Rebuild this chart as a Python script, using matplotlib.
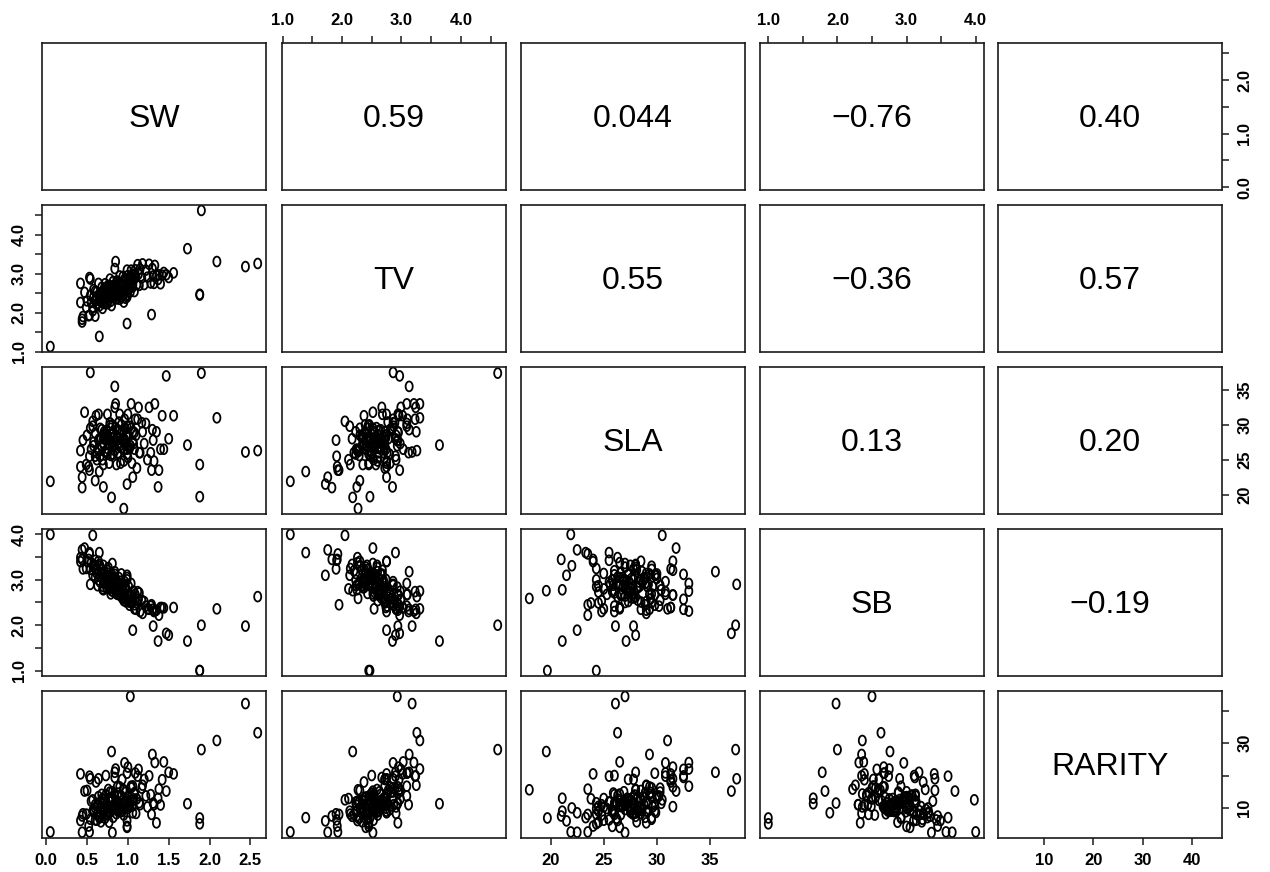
import numpy as np
import matplotlib
matplotlib.use("Agg")
import matplotlib.pyplot as plt
from matplotlib.path import Path
from matplotlib.markers import MarkerStyle

plt.rcParams["font.family"] = ["Liberation Sans", "DejaVu Sans"]

variables = ["SW", "TV", "SLA", "SB", "RARITY"]

SW = [0.05, 1.90, 1.73, 2.09, 2.44, 2.59, 1.88, 1.88, 1.03, 0.44,
      0.53, 0.81, 0.99, 0.99, 0.42, 0.53, 0.44, 0.57, 0.65, 0.80,
      0.85, 0.99, 1.29, 1.30, 1.31, 1.33, 1.35, 1.37, 1.47, 1.50,
      1.06, 0.54, 0.84, 0.95, 0.70, 0.60,
      0.42, 0.45, 0.47, 0.49, 0.50, 0.52, 0.54, 0.55, 0.57, 0.58,
      0.60, 0.61, 0.62, 0.63, 0.64, 0.65, 0.66, 0.67, 0.68, 0.69,
      0.70, 0.70, 0.71, 0.72, 0.73, 0.74, 0.75, 0.75, 0.76, 0.77,
      0.78, 0.79, 0.80, 0.81, 0.82, 0.83, 0.84, 0.86, 0.87, 0.88,
      0.89, 0.90, 0.90, 0.91, 0.92, 0.93, 0.94, 0.95, 0.96, 0.97,
      0.98, 0.99, 1.00, 1.00, 1.01, 1.02, 1.03, 1.04, 1.05, 1.06,
      1.07, 1.08, 1.09, 1.10, 1.11, 1.12, 1.13, 1.14, 1.15, 1.17,
      1.18, 1.20, 1.22, 1.24, 1.26, 1.28, 1.32, 1.38, 1.40, 1.42,
      1.44, 1.56,
      0.58, 0.60, 0.62, 0.64, 0.66, 0.68, 0.70, 0.71, 0.72, 0.73,
      0.74, 0.75, 0.76, 0.77, 0.78, 0.79, 0.80, 0.81, 0.82, 0.83,
      0.84, 0.85, 0.86, 0.87, 0.88, 0.89, 0.90, 0.91, 0.92, 0.93,
      0.94, 0.95, 0.96, 0.97, 0.98, 1.00, 1.02, 1.04, 1.06, 1.08]
TV = [1.13, 4.62, 3.64, 3.31, 3.18, 3.26, 2.47, 2.45, 2.93, 1.76,
      1.93, 2.52, 2.40, 2.45, 2.75, 2.90, 1.83, 2.05, 1.39, 2.18,
      3.31, 1.72, 1.95, 3.13, 2.94, 3.21, 2.94, 2.85, 2.97, 2.90,
      2.75, 2.86, 3.13, 2.27, 2.25, 2.30,
      2.26, 1.90, 2.52, 2.14, 2.30, 1.92, 2.44, 2.26, 2.13, 2.59,
      1.91, 2.37, 2.53, 2.24, 2.75, 2.17, 2.48, 2.34, 2.65, 2.11,
      2.42, 2.57, 2.23, 2.74, 2.50, 2.36, 2.68, 2.23, 2.59, 2.45,
      2.86, 2.52, 2.68, 2.39, 2.80, 2.51, 2.67, 2.35, 2.81, 2.62,
      2.53, 2.94, 2.34, 2.75, 2.46, 2.72, 2.93, 2.60, 2.86, 2.37,
      2.73, 3.09, 2.60, 2.95, 2.71, 2.87, 2.53, 3.09, 2.81, 2.72,
      2.98, 2.54, 3.10, 2.91, 2.72, 3.23, 2.99, 2.70, 3.12, 2.89,
      3.25, 2.72, 3.09, 2.91, 3.24, 2.76, 2.75, 2.97, 2.74, 2.96,
      3.03, 3.02,
      2.40, 2.55, 2.20, 2.45, 2.30, 2.50, 2.35, 2.60, 2.28, 2.48,
      2.62, 2.40, 2.33, 2.70, 2.44, 2.29, 2.56, 2.63, 2.38, 2.70,
      2.48, 2.58, 2.43, 2.68, 2.50, 2.77, 2.55, 2.40, 2.66, 2.52,
      2.78, 2.45, 2.62, 2.82, 2.55, 2.74, 2.62, 2.85, 2.66, 2.95]
SLA = [21.9, 37.4, 27.1, 31.0, 26.1, 26.3, 19.7, 24.3, 27.0, 22.5,
       23.5, 27.0, 26.5, 25.8, 24.0, 25.5, 21.0, 30.5, 23.3, 19.6,
       33.0, 21.5, 23.5, 29.3, 27.8, 33.0, 29.0, 21.1, 37.0, 28.0,
       22.5, 37.5, 35.5, 18.0, 21.1, 22.0,
       26.3, 27.8, 31.8, 24.3, 28.5, 24.0, 29.5, 26.5, 29.8, 27.5,
       25.5, 31.3, 25.0, 26.5, 31.5, 28.0, 25.5, 28.1, 29.3, 25.0,
       28.0, 24.3, 29.0, 28.5, 26.0, 28.2, 31.5, 25.8, 28.0, 24.5,
       30.3, 29.5, 27.3, 30.0, 25.8, 27.6, 32.5, 24.3, 29.3, 26.0,
       29.0, 31.5, 27.0, 24.5, 30.0, 27.8, 27.7, 24.8, 30.8, 27.3,
       28.5, 29.8, 25.3, 31.5, 26.8, 29.8, 27.0, 33.0, 24.5, 29.0,
       27.3, 26.5, 30.8, 28.5, 23.8, 30.8, 32.5, 26.0, 26.0, 30.3,
       29.0, 27.3, 30.2, 25.0, 32.5, 26.0, 24.8, 23.5, 26.5, 31.3,
       26.5, 31.3,
       27.0, 28.8, 26.0, 27.8, 29.5, 26.8, 27.4, 28.6, 26.2, 27.9,
       29.2, 26.6, 28.4, 27.2, 29.9, 25.6, 28.1, 26.9, 28.9, 27.1,
       26.3, 29.6, 27.7, 28.3, 25.9, 30.4, 27.5, 28.7, 26.7, 29.1,
       28.0, 26.4, 27.9, 29.4, 27.1, 28.2, 26.6, 29.5, 27.6, 28.9]
SB = [4.00, 2.00, 1.65, 2.36, 1.98, 2.63, 1.00, 1.00, 2.50, 3.66,
      3.57, 3.36, 3.05, 3.00, 3.40, 3.60, 3.45, 3.98, 3.60, 2.76,
      2.75, 3.10, 2.45, 2.35, 1.98, 2.31, 2.33, 1.65, 1.82, 1.78,
      1.89, 2.90, 3.18, 2.59, 2.78, 3.31,
      3.49, 3.24, 3.70, 3.25, 3.41, 3.45, 3.23, 3.38, 3.10, 3.32,
      3.43, 3.24, 3.14, 2.87, 3.41, 3.34, 2.95, 3.22, 3.13, 2.80,
      3.32, 2.85, 3.14, 3.01, 3.11, 2.82, 3.21, 2.99, 3.27, 2.87,
      2.88, 2.69, 3.12, 3.03, 2.74, 3.03, 3.12, 3.00, 2.68, 2.76,
      3.05, 2.66, 2.88, 2.73, 3.13, 2.60, 2.84, 2.54, 2.96, 2.83,
      2.51, 2.67, 2.68, 2.67, 2.85, 2.44, 2.64, 2.92, 2.49, 2.52,
      2.75, 2.36, 2.68, 2.35, 2.49, 2.74, 2.57, 2.71, 2.30, 2.55,
      2.26, 2.52, 2.42, 2.36, 2.35, 2.42, 2.30, 2.22, 2.39, 2.39,
      2.38, 2.39,
      3.28, 3.05, 3.20, 3.00, 3.30, 3.05, 2.95, 3.18, 2.92, 3.08,
      2.90, 3.15, 2.86, 2.98, 3.10, 2.90, 2.82, 3.00, 2.92, 2.80,
      3.06, 2.85, 2.70, 2.95, 2.88, 2.78, 2.72, 2.97, 2.68, 2.85,
      2.62, 2.90, 2.70, 2.58, 2.80, 2.55, 2.66, 2.50, 2.60, 2.45]
RARITY = [2.6, 28.0, 11.3, 30.8, 42.2, 33.2, 6.9, 5.1, 44.4, 2.5,
          2.6, 2.4, 4.0, 4.3, 20.5, 19.8, 7.5, 12.5, 7.0, 27.4,
          22.0, 6.0, 8.0, 26.5, 11.5, 24.0, 5.4, 13.0, 15.2, 21.0,
          8.5, 19.0, 21.0, 15.6, 9.0, 10.0,
          6.1, 8.2, 15.2, 8.1, 15.4, 4.4, 6.5, 12.1, 9.0, 8.7,
          6.3, 18.0, 6.2, 10.9, 19.0, 7.4, 11.8, 5.7, 14.2, 12.9,
          8.4, 11.6, 11.8, 9.9, 20.0, 8.9, 10.4, 8.8, 15.7, 5.6,
          14.9, 13.2, 12.4, 13.1, 9.4, 10.1, 19.4, 9.8, 16.5, 9.0,
          9.2, 16.5, 11.2, 9.0, 13.7, 18.8, 11.4, 7.8, 23.9, 12.0,
          12.8, 20.7, 9.8, 22.6, 11.7, 11.0, 12.2, 16.7, 10.5, 16.8,
          12.8, 14.3, 20.8, 8.3, 12.8, 19.8, 21.9, 11.6, 11.0, 16.1,
          17.0, 18.8, 13.7, 10.3, 19.9, 14.1, 11.0, 15.8, 10.9, 18.7,
          24.2, 20.5,
          9.5, 11.0, 8.0, 13.5, 7.0, 10.5, 12.5, 9.2, 6.8, 14.0,
          11.3, 7.9, 10.0, 13.0, 8.6, 11.9, 9.4, 15.0, 7.1, 11.0,
          13.8, 10.3, 8.2, 12.0, 14.6, 11.4, 9.6, 13.4, 10.6, 8.9,
          15.5, 12.6, 9.9, 14.8, 11.1, 13.3, 10.4, 16.2, 12.3, 14.7]

# Correlation labels printed in the upper panels, keyed by (row, col)
cor_labels = {(0, 1): "0.59", (0, 2): "0.044", (0, 3): "\u22120.76", (0, 4): "0.40",
              (1, 2): "0.55", (1, 3): "\u22120.36", (1, 4): "0.57",
              (2, 3): "0.13", (2, 4): "0.20",
              (3, 4): "\u22120.19"}

# Tick positions, labels for horizontal axes, labels for vertical axes
ticks = {
    "SW": ([0.0, 0.5, 1.0, 1.5, 2.0, 2.5], ["0.0", "0.5", "1.0", "1.5", "2.0", "2.5"],
           ["0.0", "", "1.0", "", "2.0", ""]),
    "TV": ([1.0, 1.5, 2.0, 2.5, 3.0, 3.5, 4.0, 4.5], ["1.0", "", "2.0", "", "3.0", "", "4.0", ""],
           ["1.0", "", "2.0", "", "3.0", "", "4.0", ""]),
    "SLA": ([20, 25, 30, 35], ["20", "25", "30", "35"], ["20", "25", "30", "35"]),
    "SB": ([1.0, 1.5, 2.0, 2.5, 3.0, 3.5, 4.0], ["1.0", "", "2.0", "", "3.0", "", "4.0"],
           ["1.0", "", "2.0", "", "3.0", "", "4.0"]),
    "RARITY": ([10, 20, 30, 40], ["10", "20", "30", "40"], ["10", "", "30", ""]),
}

data = {"SW": SW, "TV": TV, "SLA": SLA, "SB": SB, "RARITY": RARITY}


def padded_range(vals):
    lo, hi = min(vals), max(vals)
    pad = 0.04 * (hi - lo)
    return lo - pad, hi + pad


limits = {k: padded_range(v) for k, v in data.items()}

# open ellipse marker, a little taller than wide
theta = np.linspace(0, 2 * np.pi, 40)
ell = Path(np.column_stack([0.72 * np.cos(theta), np.sin(theta)]), closed=True)
marker = MarkerStyle(ell)

W, H = 1270, 872
fig = plt.figure(figsize=(W / 100, H / 100), dpi=100)

col_left = [42, 282, 521, 760, 998]
row_top = [43, 205, 367, 529, 691]
pw, ph = 224, 147

tick_font = dict(fontsize=12, fontweight="bold")
n = len(variables)
for i in range(n):
    for j in range(n):
        x0 = col_left[j] / W
        y0 = 1 - (row_top[i] + ph) / H
        ax = fig.add_axes([x0, y0, pw / W, ph / H])
        vx, vy = variables[j], variables[i]
        ax.set_xlim(*limits[vx])
        ax.set_ylim(*limits[vy])
        for s in ax.spines.values():
            s.set_linewidth(1.2)
            s.set_color("#1a1a1a")
        ax.set_xticks([])
        ax.set_yticks([])
        if i > j:
            ax.scatter(data[vx], data[vy], marker=marker, s=50, facecolors="none",
                       edgecolors="black", linewidths=1.3)
        elif i == j:
            ax.text(0.5, 0.48, vx, transform=ax.transAxes, ha="center", va="center",
                    fontsize=23)
        else:
            ax.text(0.5, 0.48, cor_labels[(i, j)], transform=ax.transAxes,
                    ha="center", va="center", fontsize=23)

        # outer axes alternate between the two sides of the grid
        tk = ticks[vx]
        if i == 0 and j % 2 == 1:
            ax.xaxis.set_ticks_position("top")
            ax.set_xticks(tk[0])
            ax.set_xticklabels(tk[1], **tick_font)
        if i == n - 1 and j % 2 == 0:
            ax.xaxis.set_ticks_position("bottom")
            ax.set_xticks(tk[0])
            ax.set_xticklabels(tk[1], **tick_font)
        tk = ticks[vy]
        if j == 0 and i % 2 == 1:
            ax.yaxis.set_ticks_position("left")
            ax.set_yticks(tk[0])
            ax.set_yticklabels(tk[2], rotation=90, va="center", **tick_font)
        if j == n - 1 and i % 2 == 0:
            ax.yaxis.set_ticks_position("right")
            ax.set_yticks(tk[0])
            ax.set_yticklabels(tk[2], rotation=90, va="center", **tick_font)
        ax.tick_params(length=5, width=1.1, color="#1a1a1a", pad=6)

fig.savefig("out.png", dpi=100)
